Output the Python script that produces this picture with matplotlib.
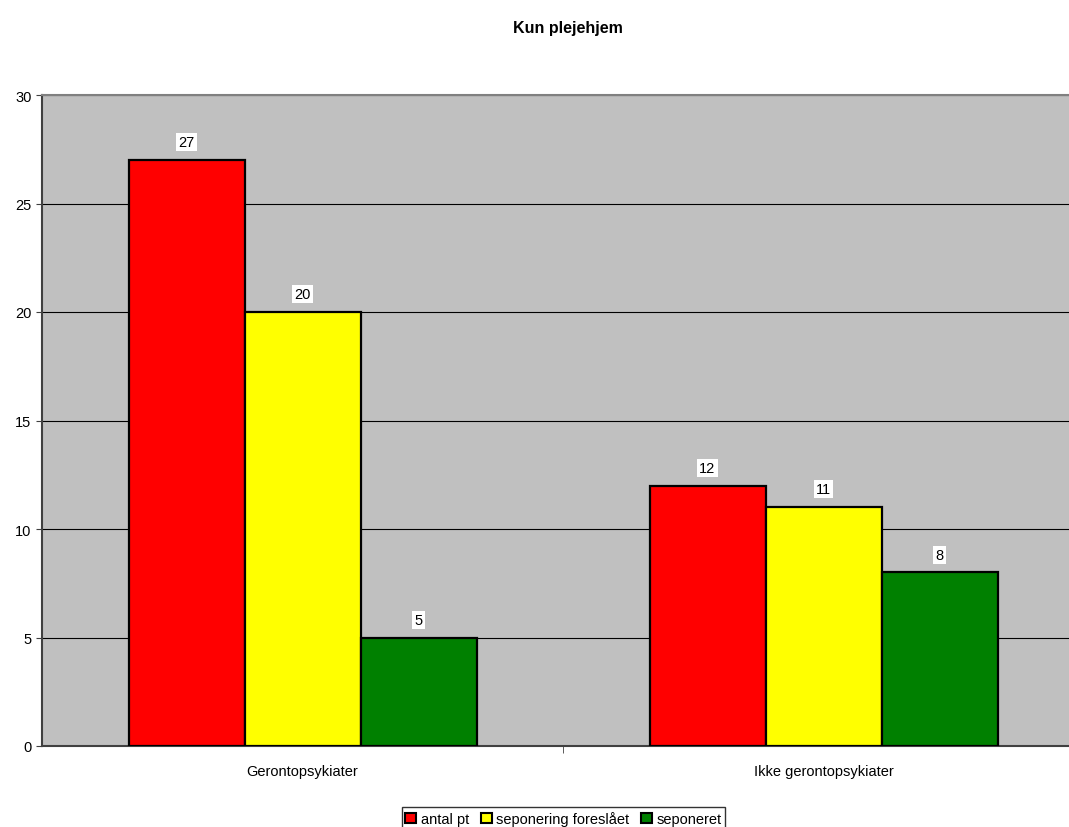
import numpy as np
import matplotlib
matplotlib.use("Agg")
import matplotlib.pyplot as plt

plt.rcParams['font.family'] = ['Liberation Sans', 'DejaVu Sans']

categories = ["Gerontopsykiater", "Ikke gerontopsykiater"]
series_names = ["antal pt", "seponering foreslået", "seponeret"]
antal_pt = [27, 12]
seponering_foreslaaet = [20, 11]
seponeret = [5, 8]
colors = ["#FF0000", "#FFFF00", "#008000"]

series = [antal_pt, seponering_foreslaaet, seponeret]

fig = plt.figure(figsize=(10.69, 8.28), dpi=100)
ax = fig.add_axes([42 / 1069, 81 / 828, 1042 / 1069, 651 / 828])
ax.set_facecolor("#C0C0C0")

x = np.arange(len(categories))
width = 116 / 521
for i, (vals, name, c) in enumerate(zip(series, series_names, colors)):
    pos = x + (i - 1) * width
    bars = ax.bar(pos, vals, width, color=c, edgecolor="black", linewidth=1.6,
                  label=name, zorder=3)
    for b, v in zip(bars, vals):
        ax.text(b.get_x() + b.get_width() / 2, v + 0.5, str(v),
                ha="center", va="bottom", fontsize=10.5,
                bbox=dict(facecolor="white", edgecolor="none", pad=1.5), zorder=4)

ax.set_xlim(-0.5, 1.5)
ax.set_ylim(0, 30)
ax.set_yticks(range(0, 31, 5))
ax.set_xticks([0.5], minor=True)
ax.set_xticks(x)
ax.set_xticklabels(categories, fontsize=10.5)
ax.tick_params(axis="x", which="major", length=0, pad=13)
ax.tick_params(axis="x", which="minor", length=5, color="#404040")
ax.tick_params(axis="y", labelsize=10.5, length=4, color="#404040")
ax.yaxis.grid(True, color="black", linewidth=0.8, zorder=1)
ax.set_axisbelow(True)

ax.spines["right"].set_visible(False)
ax.spines["top"].set_color("#808080")
ax.spines["top"].set_linewidth(1.5)
ax.spines["left"].set_color("#404040")
ax.spines["left"].set_linewidth(1.5)
ax.spines["bottom"].set_color("#404040")
ax.spines["bottom"].set_linewidth(1.5)

fig.suptitle("Kun plejehjem", x=0.531, y=0.975, fontsize=11.5, fontweight="bold")

leg = fig.legend(loc="lower center", bbox_to_anchor=(0.527, -0.005), ncol=3,
                 fontsize=10.5, frameon=True, fancybox=False, edgecolor="black",
                 handlelength=0.75, handleheight=0.75, handletextpad=0.3,
                 columnspacing=0.8, borderpad=0.25, borderaxespad=0.1)
for h in leg.legend_handles:
    h.set_linewidth(1.5)

fig.savefig("out.png", dpi=100)
